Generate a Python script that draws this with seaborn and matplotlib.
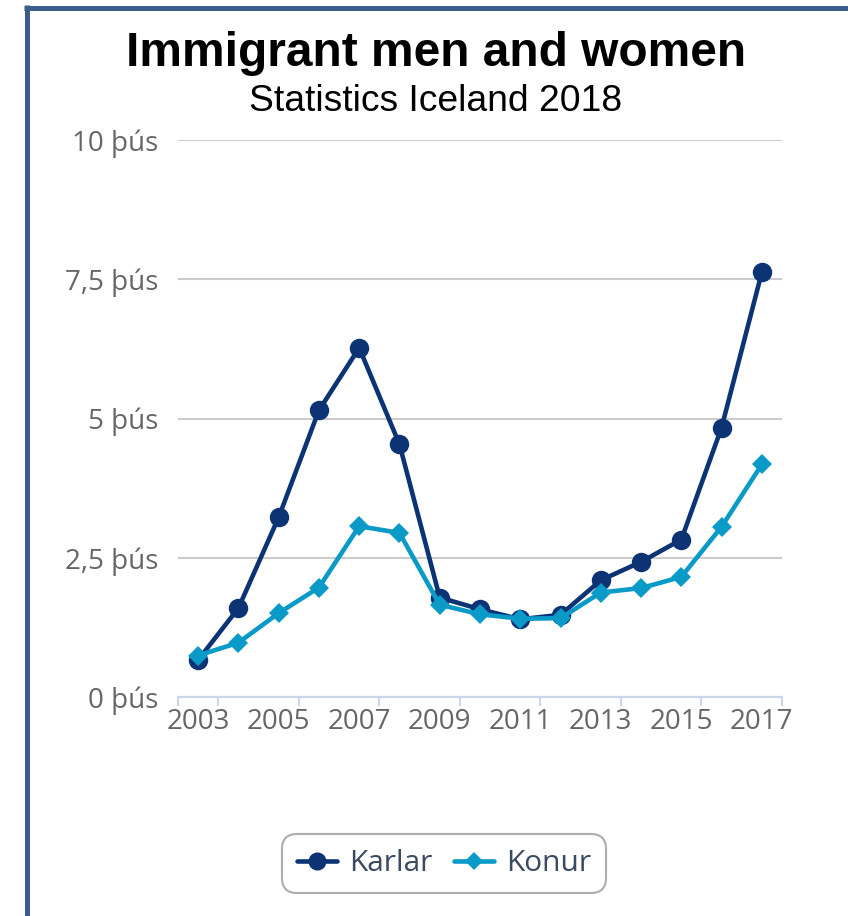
import numpy as np
import pandas as pd
import matplotlib
matplotlib.use("Agg")
import matplotlib.pyplot as plt
import seaborn as sns
from matplotlib.lines import Line2D

# data (thousands of immigrants)
years = [2003, 2004, 2005, 2006, 2007, 2008, 2009, 2010,
         2011, 2012, 2013, 2014, 2015, 2016, 2017]
karlar = [0.67, 1.60, 3.23, 5.15, 6.27, 4.54, 1.79, 1.58,
          1.40, 1.48, 2.10, 2.43, 2.83, 4.84, 7.63]
konur = [0.75, 0.98, 1.51, 1.97, 3.07, 2.95, 1.66, 1.49,
         1.41, 1.42, 1.88, 1.96, 2.16, 3.06, 4.18]
ytick_vals = [0, 2.5, 5, 7.5, 10]
ytick_labels = ["0 þús", "2,5 þús", "5 þús", "7,5 þús", "10 þús"]
xtick_years = [2003, 2005, 2007, 2009, 2011, 2013, 2015, 2017]

df = pd.DataFrame({"Ár": years * 2,
                   "Fjöldi": karlar + konur,
                   "Kyn": ["Karlar"] * len(years) + ["Konur"] * len(years)})

sns.set_theme(style="white")
plt.rcParams["font.family"] = ["Open Sans", "DejaVu Sans"]

W, H = 848, 916
fig = plt.figure(figsize=(W / 100, H / 100), dpi=100)
fig.patch.set_facecolor("white")

# plot area in pixel coords
left, right, top, bottom = 178, 782, 140, 697.3
ax = fig.add_axes([left / W, 1 - bottom / H, (right - left) / W, (bottom - top) / H])

c_men = "#0c3374"
c_women = "#0a9ac7"

sns.lineplot(data=df[df.Kyn == "Karlar"], x="Ár", y="Fjöldi", ax=ax, color=c_men,
             lw=3.3, marker="o", markersize=14, markeredgewidth=0,
             solid_joinstyle="round", solid_capstyle="round", legend=False)
sns.lineplot(data=df[df.Kyn == "Konur"], x="Ár", y="Fjöldi", ax=ax, color=c_women,
             lw=3.3, marker="D", markersize=10, markeredgewidth=0,
             solid_joinstyle="round", solid_capstyle="round", legend=False)

ax.set_xlim(2002.5, 2017.5)
ax.set_ylim(0, 10)
ax.set_xlabel("")
ax.set_ylabel("")

for s in ["left", "right", "top"]:
    ax.spines[s].set_visible(False)
ax.spines["bottom"].set_color("#ccd6eb")
ax.spines["bottom"].set_linewidth(1.5)
ax.spines["bottom"].set_zorder(3)

ax.yaxis.grid(True, color="#cccccc", lw=1.5)
ax.xaxis.grid(False)
ax.set_axisbelow(True)

ax.set_yticks(ytick_vals)
ax.set_yticklabels(ytick_labels)
ax.tick_params(axis="y", length=0, pad=14, labelsize=20, labelcolor="#666666")

# tick marks between categories, labels on categories
ax.set_xticks([2002.5] + [y + 0.5 for y in xtick_years])
ax.set_xticklabels([])
ax.tick_params(axis="x", which="major", length=6.5, width=1.5, color="#ccd6eb",
               direction="out", bottom=True)
ax.set_xticks(xtick_years, minor=True)
ax.set_xticklabels([str(y) for y in xtick_years], minor=True)
ax.tick_params(axis="x", which="minor", length=0, pad=8, labelsize=20,
               labelcolor="#666666", bottom=True)

# titles
cx = 436 / W
fig.text(cx, 1 - 66 / H, "Immigrant men and women", ha="center", va="baseline",
         fontsize=34.5, fontweight="bold", family=["Liberation Sans", "DejaVu Sans"],
         color="black")
fig.text(cx, 1 - 111 / H, "Statistics Iceland 2018", ha="center", va="baseline",
         fontsize=26.8, family=["Liberation Sans", "DejaVu Sans"], color="black")

# legend
handles = [Line2D([], [], color=c_men, lw=3.3, marker="o", markersize=13, markeredgewidth=0),
           Line2D([], [], color=c_women, lw=3.3, marker="D", markersize=9, markeredgewidth=0)]
leg = fig.legend(handles, ["Karlar", "Konur"], loc="center",
                 bbox_to_anchor=(444 / W, 1 - 863.5 / H), bbox_transform=fig.transFigure,
                 ncol=2, frameon=True, fancybox=True, fontsize=21.5,
                 handlelength=1.35, handletextpad=0.4, columnspacing=0.7,
                 borderpad=0.5, borderaxespad=0)
leg.get_frame().set_edgecolor("#999999")
leg.get_frame().set_linewidth(1.5)
leg.get_frame().set_boxstyle("round,pad=0.,rounding_size=0.5")
for t in leg.get_texts():
    t.set_color("#3a4a60")

# container frame (left and top edges)
frame_c = "#3b5d8b"
fig.add_artist(Line2D([26.5 / W, 26.5 / W], [1 - 5 / H, 0], transform=fig.transFigure,
                      color=frame_c, lw=3.6, solid_capstyle="butt"))
fig.add_artist(Line2D([24 / W, 1], [1 - 7.5 / H, 1 - 7.5 / H], transform=fig.transFigure,
                      color=frame_c, lw=3.6, solid_capstyle="butt"))

fig.savefig("out.png", dpi=100)
